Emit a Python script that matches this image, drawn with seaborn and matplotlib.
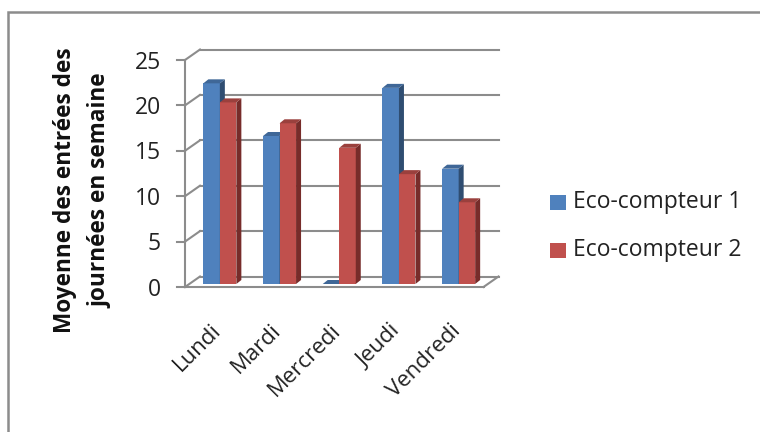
import matplotlib
matplotlib.use("Agg")
import matplotlib.pyplot as plt
from matplotlib.patches import Polygon, Rectangle
from matplotlib.transforms import IdentityTransform, ScaledTranslation
import pandas as pd
import seaborn as sns

jours = ["Lundi", "Mardi", "Mercredi", "Jeudi", "Vendredi"]
compteur_1 = [22.1, 16.3, 0, 21.6, 12.7]
compteur_2 = [20.0, 17.7, 15.0, 12.1, 9.0]
y_ticks = [0, 5, 10, 15, 20, 25]
noms = ["Eco-compteur 1", "Eco-compteur 2"]

W, H = 760, 432
BLEU, ROUGE = "#4f81bd", "#c0504d"
BLEU_TOP, ROUGE_TOP = "#3f6797", "#9a403d"
BLEU_COTE, ROUGE_COTE = "#2f4d71", "#772c2a"
GRIS = "#8c8c8c"


def px(dx, dy, fig):
    # decalage en pixels, pour la fausse perspective
    return ScaledTranslation(dx / fig.dpi, dy / fig.dpi, fig.dpi_scale_trans)


df = pd.DataFrame({
    "jour": jours * 2,
    "valeur": compteur_1 + compteur_2,
    "serie": [noms[0]] * 5 + [noms[1]] * 5,
})

plt.rcParams["font.family"] = ["Open Sans", "DejaVu Sans"]
fig = plt.figure(figsize=(W / 100, H / 100), dpi=100)
# cadre du graphique, coupe a droite et en bas
fig.add_artist(Rectangle((8 / W, -0.05), 1.0, 1 - 11.5 / H + 0.05, transform=fig.transFigure,
                         fill=False, edgecolor=GRIS, linewidth=1.8))

# y=0 au pied des barres (284 px), y=25 a 57 px
ax = fig.add_axes([190 / W, 1 - 284 / H, 298.5 / W, 227 / H])
sns.barplot(data=df, x="jour", y="valeur", hue="serie", order=jours, hue_order=noms,
            palette=[BLEU, ROUGE], width=0.553, gap=0, saturation=1, legend=False, ax=ax)
ax.set_xlim(-0.5, 4.5)
ax.set_ylim(0, 25)
for s in ax.spines.values():
    s.set_visible(False)
ax.set_xlabel("")
ax.set_ylabel("")

# faces de cote et dessus des barres, le rouge passe devant le bleu
ppx = 298.5 / 5
ppy = 227 / 25
dx_bar, dy_bar = 5 / ppx, 4 / ppy
for i, barre in enumerate(ax.patches[:10]):
    x0, h, w = barre.get_x(), barre.get_height(), barre.get_width()
    top, cote = (BLEU_TOP, BLEU_COTE) if i < 5 else (ROUGE_TOP, ROUGE_COTE)
    z = 3 if i < 5 else 4
    barre.set_zorder(z)
    ax.add_patch(Polygon([(x0 + w, 0), (x0 + w + dx_bar, dy_bar), (x0 + w + dx_bar, h + dy_bar), (x0 + w, h)],
                         facecolor=cote, edgecolor="none", zorder=z, clip_on=False))
    ax.add_patch(Polygon([(x0, h), (x0 + dx_bar, h + dy_bar), (x0 + w + dx_bar, h + dy_bar), (x0 + w, h)],
                         facecolor=top, edgecolor="none", zorder=z, clip_on=False))

# grille : paroi du fond et plancher
front = ax.transData + px(-5, -3, fig)
back = ax.transData + px(10, 7.5, fig)
ident = IdentityTransform()
for v in y_ticks:
    ax.plot([-0.5, 4.5], [v, v], transform=back, color=GRIS, lw=1.5, clip_on=False, zorder=1)
    p0 = front.transform((-0.5, v))
    p1 = back.transform((-0.5, v))
    # petite diagonale vers le fond et graduation
    ax.plot([p0[0], p1[0]], [p0[1], p1[1]], transform=ident, color=GRIS, lw=1.5, zorder=1, clip_on=False)
    ax.plot([p0[0] - 8, p0[0]], [p0[1], p0[1]], transform=ident, color=GRIS, lw=1.5, zorder=1, clip_on=False)
    ax.text(-0.5, v, str(v), transform=ax.transData + px(-29, -5.5, fig), ha="right", va="center",
            fontsize=16.5, color="#222222")
ax.plot([-0.5, -0.5], [0, 25], transform=front, color=GRIS, lw=1.5, clip_on=False, zorder=1)
ax.plot([-0.5, 4.5], [0, 0], transform=front, color=GRIS, lw=1.5, clip_on=False, zorder=2)
p0 = front.transform((4.5, 0))
p1 = back.transform((4.5, 0))
ax.plot([p0[0], p1[0]], [p0[1], p1[1]], transform=ident, color=GRIS, lw=1.5, zorder=2, clip_on=False)

ax.set_yticks([])
ax.set_xticks(range(5))
ax.set_xticklabels(jours, rotation=45, ha="right", rotation_mode="anchor", fontsize=16, color="#222222")
ax.tick_params(axis="x", length=0, pad=26)
for lab in ax.get_xticklabels():
    lab.set_transform(lab.get_transform() + px(-9, 0, fig))

fig.text(65 / W, 1 - 190 / H, "Moyenne des entrées des", rotation=90, ha="center", va="center",
         fontsize=16.3, fontweight="bold", color="#111111")
fig.text(100 / W, 1 - 191 / H, "journées en semaine", rotation=90, ha="center", va="center",
         fontsize=16.3, fontweight="bold", color="#111111")

for yp, nom, col in [(202.5, noms[0], BLEU), (250.5, noms[1], ROUGE)]:
    fig.add_artist(Rectangle((550 / W, 1 - (yp + 7.5) / H), 16 / W, 15 / H, transform=fig.transFigure,
                             facecolor=col, edgecolor="none"))
    fig.text(573 / W, 1 - yp / H, nom, ha="left", va="center", fontsize=16.5, color="#222222")

fig.savefig("out.png", dpi=100)
